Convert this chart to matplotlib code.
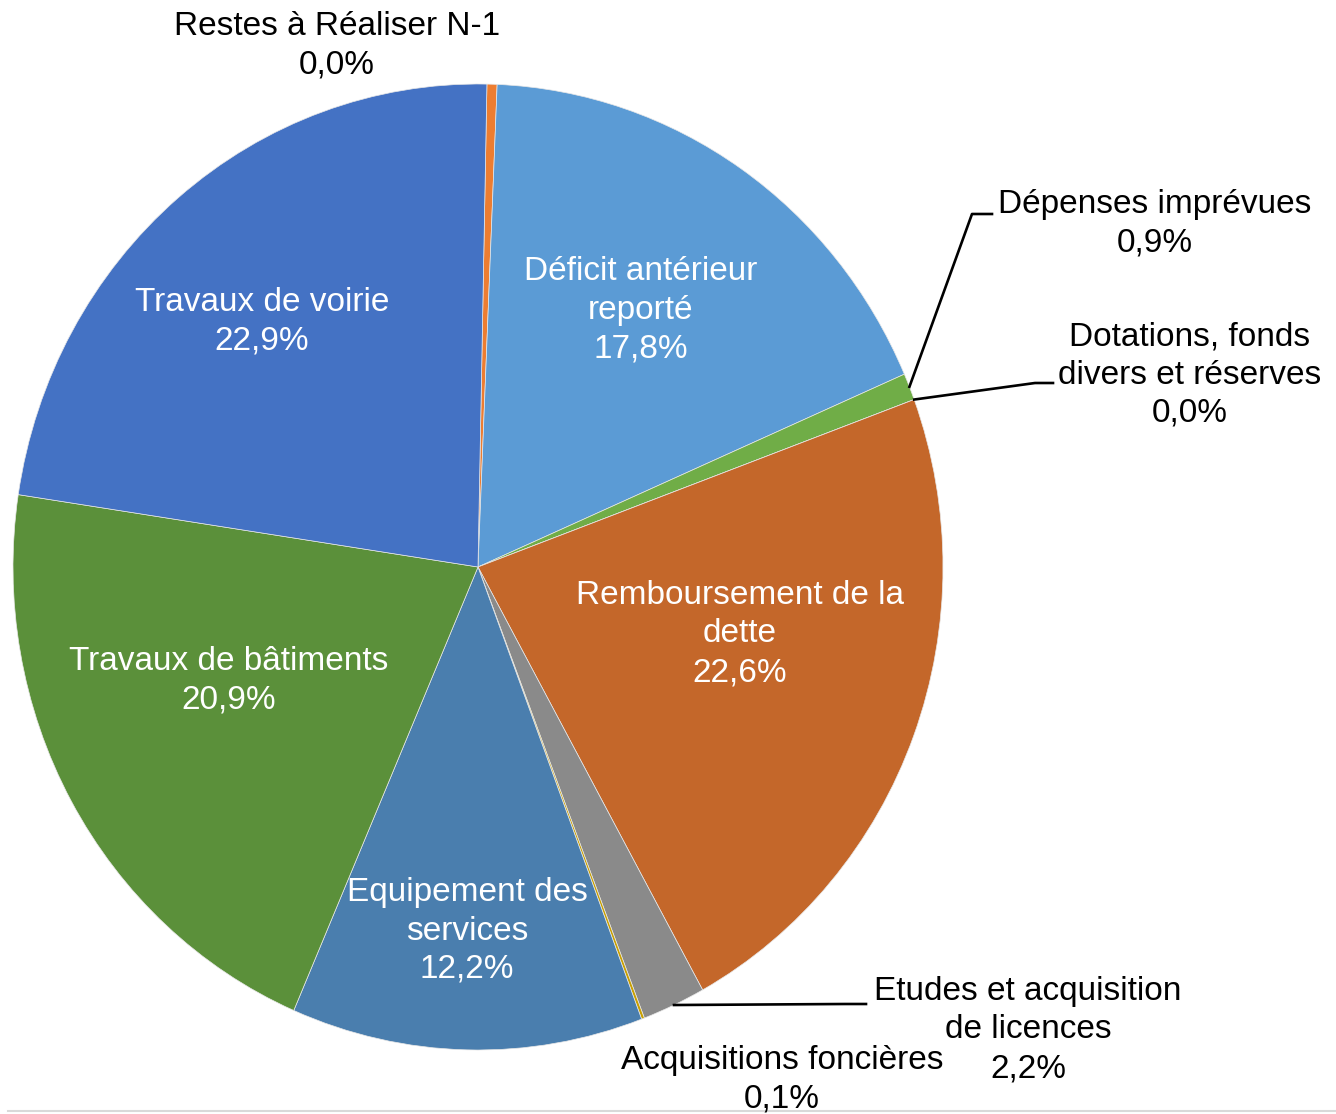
import matplotlib.pyplot as plt
from matplotlib.transforms import Affine2D
import numpy as np

plt.rcParams["font.family"] = ["Liberation Sans", "DejaVu Sans"]

# données (sens horaire depuis le haut)
categories = [
    "Restes à Réaliser N-1",
    "Déficit antérieur\nreporté",
    "Dépenses imprévues",
    "Dotations, fonds\ndivers et réserves",
    "Remboursement de la\ndette",
    "Etudes et acquisition\nde licences",
    "Acquisitions foncières",
    "Equipement des\nservices",
    "Travaux de bâtiments",
    "Travaux de voirie",
]
values = [0.35, 17.8, 0.9, 0.0, 22.6, 2.2, 0.1, 12.2, 20.9, 22.9]
pct_labels = ["0,0%", "17,8%", "0,9%", "0,0%", "22,6%", "2,2%", "0,1%", "12,2%", "20,9%", "22,9%"]

colors = ["#ED7D31", "#5B9BD5", "#70AD47", "#264478", "#C4672A",
          "#8A8A8A", "#C9A000", "#4A7EAE", "#5B903A", "#4472C4"]

# position des étiquettes (px) et couleur du texte
label_pos = [(337, 46), (641, 310), (1155, 224), (1190, 375), (740, 634),
             (1028, 1030), (782, 1080), (467, 931), (229, 681), (262, 322)]
label_col = ["black", "white", "black", "black", "white",
             "black", "black", "white", "white", "white"]

# lignes de rappel : index -> (coude, fin)
leaders = {2: [(972, 214), (992, 214)],
           3: [(1035, 383), (1053, 383)],
           5: [(845, 1004), (866, 1004)]}

W, H = 1336, 1114
fig = plt.figure(figsize=(W / 100, H / 100), dpi=100)
cx, cy, rx, ry = 478, 567, 465, 483
ax = fig.add_axes([(cx - rx) / W, (H - cy - ry) / H, 2 * rx / W, 2 * ry / H])

wedges, _ = ax.pie(values, colors=colors, startangle=88.9, counterclock=False,
                   radius=1, wedgeprops=dict(edgecolor="#E8E8E8", linewidth=0.5))
ax.set_aspect("auto")
ax.set_xlim(-1, 1)
ax.set_ylim(-1, 1)
ax.axis("off")

px = Affine2D().scale(1 / W, -1 / H).translate(0, 1) + fig.transFigure

# une ligne de texte par appel (interligne 38.5 px)
gap = 38.5
for i, (cat, pct) in enumerate(zip(categories, pct_labels)):
    x, y = label_pos[i]
    lines = cat.split("\n") + [pct]
    n = len(lines)
    for k, line in enumerate(lines):
        fig.text(x, y + (k - (n - 1) / 2) * gap, line, transform=px,
                 ha="center", va="center", fontsize=24, color=label_col[i])

for i, pts in leaders.items():
    w = wedges[i]
    ang = np.deg2rad((w.theta1 + w.theta2) / 2)
    ex, ey = ax.transData.transform((np.cos(ang), np.sin(ang)))
    ey = H - ey
    xs = [ex] + [p[0] for p in pts]
    ys = [ey] + [p[1] for p in pts]
    fig.add_artist(plt.Line2D(xs, ys, transform=px, color="black", linewidth=1.9))

# bordure basse
fig.add_artist(plt.Line2D([8, W], [1111, 1111], transform=px, color="#D9D9D9", linewidth=1.5))

plt.savefig("out.png", dpi=100)
